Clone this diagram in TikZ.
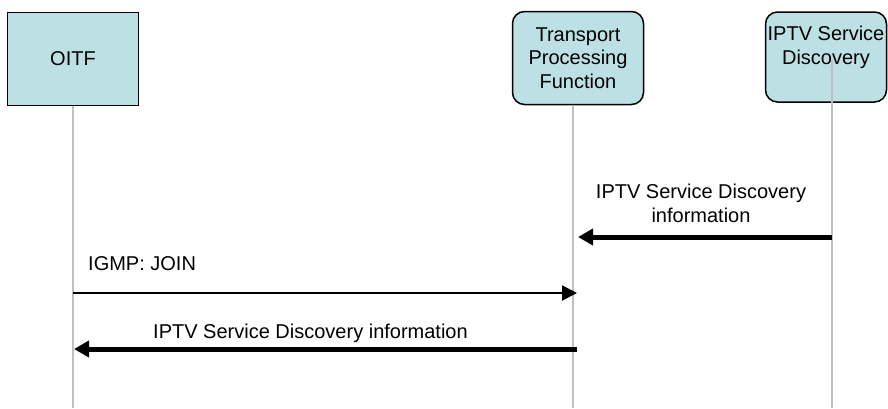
\documentclass[tikz,border=0pt]{standalone}
\usepackage{fontspec}
\setmainfont{Liberation Sans}
\usepackage{xcolor}
\usetikzlibrary{arrows.meta}
\definecolor{boxfill}{RGB}{188,224,228}
\definecolor{lifegray}{RGB}{192,192,192}
\newcommand{\seqfont}{\fontsize{20}{23.5}\selectfont}

\begin{document}
\begin{tikzpicture}[
        x=1pt, y=-1pt,
        entity/.style={draw, line width=1.5pt, fill=boxfill, align=center, font=\seqfont, inner sep=1pt, minimum width=131pt, minimum height=93pt},
        process/.style={entity, rounded corners=12pt},
        lifeline/.style={draw=lifegray, line width=2pt},
        msg/.style={font=\seqfont, inner sep=0pt, align=center},
        thinarr/.style={line width=2pt, -{Triangle[length=15pt, width=15pt]}},
        thickarr/.style={line width=5pt, -{Triangle[length=15pt, width=16pt]}},
    ]
        \useasboundingbox (0,0) rectangle (888,408);

        \node[entity]  (oitf) at (73,59)  {OITF};
        \node[process] (tpf)  at (578,58) {Transport\\Processing\\Function};
        \node[process, minimum width=121pt, minimum height=90pt] (iptv) at (826,57) {IPTV Service\\Discovery\\\mbox{}};

        \coordinate (oitf-end) at (73,408);
        \coordinate (tpf-top)  at (573,105);
        \coordinate (tpf-end)  at (573,408);
        \coordinate (iptv-top) at (832,60);
        \coordinate (iptv-end) at (832,408);

        \draw[lifeline] (oitf.south) -- (oitf-end);
        \draw[lifeline] (tpf-top) -- (tpf-end);
        \draw[lifeline] (iptv-top) -- (iptv-end);

        \coordinate (sd-from)   at (832,237);
        \coordinate (sd-to)     at (578,237);
        \coordinate (join-from) at (73,293);
        \coordinate (join-to)   at (577,293);
        \coordinate (info-from) at (577,349);
        \coordinate (info-to)   at (74,349);

        \node[msg]                   (sd-label)   at (701,203.5) {IPTV Service Discovery\\information};
        \node[msg, anchor=base west] (join-label) at (88,270)    {IGMP: JOIN};
        \node[msg, anchor=base]      (info-label) at (310.5,338) {IPTV Service Discovery information};

        \draw[thickarr] (sd-from) -- (sd-to);
        \draw[thinarr]  (join-from) -- (join-to);
        \draw[thickarr] (info-from) -- (info-to);
    \end{tikzpicture}
\end{document}
